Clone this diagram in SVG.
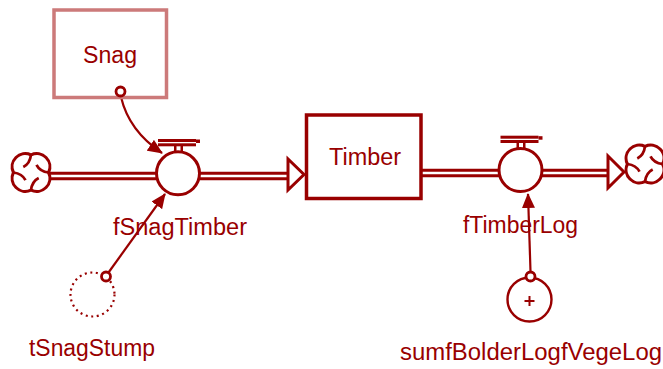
<svg xmlns="http://www.w3.org/2000/svg" xmlns:xlink="http://www.w3.org/1999/xlink" width="663" height="369" viewBox="0 0 663 369">
<style>
.lbl{font-family:"Liberation Sans",Arial,sans-serif;font-size:23px;fill:#990000}
.pipeo{stroke:#990000;stroke-width:8.5;fill:none}
.pipei{stroke:#ffffff;stroke-width:2.6;fill:none}
.link{stroke:#990000;stroke-width:2.2;fill:none}
.knob{stroke:#990000;stroke-width:2.8;fill:#ffffff}
.head{stroke:#990000;stroke-width:3;fill:#ffffff;stroke-linejoin:miter}
</style>
<defs>
<marker id="arr" viewBox="0 0 15 13" refX="14" refY="6.5" markerWidth="15" markerHeight="13" markerUnits="userSpaceOnUse" orient="auto">
<path d="M0,0 L15,6.5 L0,13 Z" fill="#990000"/>
</marker>
<g id="valve">
<circle cx="0" cy="0" r="21.5" fill="#ffffff" stroke="#990000" stroke-width="3"/>
<rect x="-20" y="-34.3" width="38" height="3" fill="#990000"/>
<rect x="18" y="-33.8" width="4" height="3.5" fill="#990000"/>
<rect x="-20" y="-30" width="38" height="3" fill="#990000"/>
<rect x="-4" y="-27.3" width="2.5" height="6" fill="#990000"/>
<rect x="2.5" y="-27.3" width="2.5" height="6" fill="#990000"/>
</g>
<g id="cloud">
<path d="M0,-16 A12 12 0 0 1 16,0 A12 12 0 0 1 0,16 A12 12 0 0 1 -16,0 A12 12 0 0 1 0,-16 Z" fill="#ffffff" stroke="#990000" stroke-width="2.8"/>
<path d="M0,-16 Q-1,-8 -7,-5 M16,0 Q8,-1 5,-7 M0,16 Q1,8 7,5 M-16,0 Q-8,1 -5,7" fill="none" stroke="#990000" stroke-width="2.5"/>
</g>
</defs>

<g id="connectors">
<line class="pipeo" x1="50" y1="176" x2="160" y2="176"/>
<line class="pipei" x1="50" y1="176" x2="160" y2="176"/>
<line class="pipeo" x1="197" y1="176" x2="290" y2="176"/>
<line class="pipei" x1="197" y1="176" x2="290" y2="176"/>
<polygon class="head" points="288,159 288,190 304,174.5"/>
<line class="pipeo" x1="422" y1="173" x2="501" y2="173"/>
<line class="pipei" x1="422" y1="173" x2="501" y2="173"/>
<line class="pipeo" x1="540" y1="173" x2="610" y2="173"/>
<line class="pipei" x1="540" y1="173" x2="610" y2="173"/>
<polygon class="head" points="608,156 608,188 624,172"/>
<path class="link" d="M121,97 Q129,131 162,153" marker-end="url(#arr)"/>
<line class="link" x1="106" y1="276" x2="165" y2="194" marker-end="url(#arr)"/>
<line class="link" x1="530.5" y1="271" x2="528" y2="194" marker-end="url(#arr)"/>
</g>

<g id="node-snag">
<rect x="54" y="10" width="112.5" height="87.5" fill="#ffffff" stroke="#cc7a7a" stroke-width="3.5"/>
<text class="lbl" x="83" y="63" textLength="54" lengthAdjust="spacingAndGlyphs">Snag</text>
<circle class="knob" cx="120.5" cy="91.5" r="4.5"/>
</g>

<g id="node-timber">
<rect x="306.5" y="115" width="114.5" height="83.5" fill="#ffffff" stroke="#990000" stroke-width="3.5"/>
<text class="lbl" x="329" y="165" textLength="72" lengthAdjust="spacingAndGlyphs">Timber</text>
</g>

<g id="cloud-left">
<use xlink:href="#cloud" href="#cloud" transform="translate(31,172.5) scale(1.1)"/>
</g>
<g id="cloud-right">
<use xlink:href="#cloud" href="#cloud" transform="translate(645,164) scale(1.1)"/>
</g>

<g id="flow-fSnagTimber">
<use xlink:href="#valve" href="#valve" x="178" y="173.3"/>
<text class="lbl" x="113" y="235" textLength="134" lengthAdjust="spacingAndGlyphs">fSnagTimber</text>
</g>

<g id="flow-fTimberLog">
<use xlink:href="#valve" href="#valve" x="520.5" y="170"/>
<text class="lbl" x="463" y="233" textLength="115" lengthAdjust="spacingAndGlyphs">fTimberLog</text>
</g>

<g id="node-tSnagStump">
<circle cx="92.5" cy="294.5" r="22" fill="none" stroke="#990000" stroke-width="2.2" stroke-dasharray="2 3.6"/>
<circle class="knob" cx="106" cy="276.5" r="4.5"/>
<text class="lbl" x="29" y="356" textLength="126" lengthAdjust="spacingAndGlyphs">tSnagStump</text>
</g>

<g id="node-sum">
<circle cx="529.5" cy="299.5" r="22" fill="#ffffff" stroke="#990000" stroke-width="2.4"/>
<path d="M524.5,301 H534.5 M529.5,296 V306" stroke="#990000" stroke-width="2"/>
<circle class="knob" cx="530.5" cy="276.5" r="4.5"/>
<text class="lbl" x="400" y="360" textLength="262" lengthAdjust="spacingAndGlyphs">sumfBolderLogfVegeLog</text>
</g>
</svg>
